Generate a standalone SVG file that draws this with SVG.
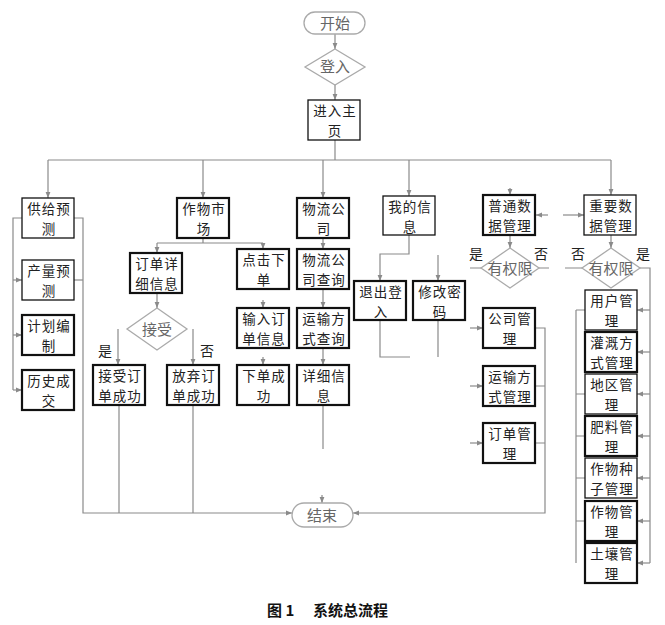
<svg xmlns="http://www.w3.org/2000/svg" width="665" height="625" viewBox="0 0 665 625">
<defs>
<marker id="a" viewBox="0 0 10 10" refX="10" refY="5" markerWidth="6" markerHeight="6" orient="auto" markerUnits="userSpaceOnUse"><path d="M0,1 L10,5 L0,9 z" fill="#8a8a8a"/></marker>
<style>
.c{fill:none;stroke:#8a8a8a;stroke-width:1.2}
.ar{marker-end:url(#a)}
.b rect{fill:#fff;stroke:#111;stroke-width:1.3}
.k rect{stroke-width:2.2}
.b text{font-family:"Noto Sans CJK SC","Noto Sans",sans-serif;font-size:13.5px;letter-spacing:1px;fill:#222;text-anchor:middle}
.lab{font-family:"Noto Sans CJK SC","Noto Sans",sans-serif;font-size:14px;fill:#222;text-anchor:middle}
.g path,.g rect{fill:#fff;stroke:#aaa;stroke-width:1.3}
.g text{font-family:"Noto Sans CJK SC","Noto Sans",sans-serif;font-size:15px;fill:#666;text-anchor:middle}
.cap{font-family:"Noto Sans CJK SC","Noto Sans",sans-serif;font-size:15px;font-weight:bold;fill:#111}
</style>
</defs>
<rect width="665" height="625" fill="#fff"/>

<g id="connectors">
<path class="c ar" d="M335,34 V49"/>
<path class="c ar" d="M335,85 V100"/>
<path class="c" d="M335,140 V160 M48,160 H611"/>
<path class="c ar" d="M48,160 V198"/>
<path class="c ar" d="M203,160 V198"/>
<path class="c ar" d="M323,160 V198"/>
<path class="c ar" d="M409,160 V196"/>
<path class="c ar" d="M611,160 V195"/>
<path class="c ar" d="M510,188 V195"/>
<path class="c" d="M22,218 H13 V390"/>
<path class="c ar" d="M13,280 H22"/>
<path class="c ar" d="M13,335 H22"/>
<path class="c ar" d="M13,390 H22"/>
<path class="c ar" d="M74,218 H83 V513 H292"/>
<path class="c" d="M74,280 H83"/>
<path class="c" d="M203,238 V243 M157,243 H263"/>
<path class="c ar" d="M157,243 V253"/>
<path class="c ar" d="M263,243 V249"/>
<path class="c ar" d="M157,293 V308"/>
<path class="c ar" d="M118,329 V365"/>
<path class="c ar" d="M193,329 V365"/>
<path class="c" d="M119,405 V513 M193,405 V513"/>
<path class="c ar" d="M263,300 V308"/>
<path class="c ar" d="M263,357 V365"/>
<path class="c ar" d="M323,238 V249"/>
<path class="c ar" d="M323,289 V308"/>
<path class="c ar" d="M323,348 V365"/>
<path class="c" d="M323,405 V449"/>
<path class="c ar" d="M322,495 V503"/>
<path class="c ar" d="M409,235 V254 H380 V281"/>
<path class="c ar" d="M438,255 V281"/>
<path class="c" d="M380,320 V357 H410 M438,320 V357"/>
<path class="c ar" d="M548,215 H536"/>
<path class="c ar" d="M563,215 H584"/>
<path class="c ar" d="M510,235 V248"/>
<path class="c" d="M470,268 H481 M539,268 H549"/>
<path class="c ar" d="M470,328 H483"/>
<path class="c ar" d="M470,386 H483"/>
<path class="c ar" d="M470,443 H483"/>
<path class="c ar" d="M535,328 H545 V513 H353"/>
<path class="c" d="M535,386 H545 M535,443 H545"/>
<path class="c ar" d="M611,235 V248"/>
<path class="c" d="M565,268 H582 M640,268 H650 V563"/>
<path class="c ar" d="M650,310 H637"/>
<path class="c ar" d="M650,352 H637"/>
<path class="c ar" d="M650,394 H637"/>
<path class="c ar" d="M650,436 H637"/>
<path class="c ar" d="M650,478 H637"/>
<path class="c ar" d="M650,521 H637"/>
<path class="c ar" d="M650,563 H637"/>
<path class="c" d="M576,310 V563 M576,310 H585 M576,394 H585 M576,436 H585 M576,478 H585 M576,521 H585"/>
</g>

<g id="start" class="g"><rect x="304" y="12" width="61" height="22" rx="11"/><text x="335" y="29">开始</text></g>
<g id="login" class="g"><path d="M335,49 L365,67 L335,85 L305,67 Z"/><text x="335" y="72">登入</text></g>
<g id="end" class="g"><rect x="292" y="503" width="61" height="24" rx="12"/><text x="322" y="521">结束</text></g>
<g id="accept" class="g"><path d="M157,308 L187,329 L157,350 L127,329 Z"/><text x="157" y="335">接受</text></g>
<g id="perm1" class="g"><path d="M510,248 L539,268 L510,288 L481,268 Z"/><text x="510" y="274">有权限</text></g>
<g id="perm2" class="g"><path d="M611,248 L640,268 L611,288 L582,268 Z"/><text x="611" y="274">有权限</text></g>

<g id="home" class="b"><rect x="308" y="100" width="52" height="40"/><text x="335" y="116">进入主</text><text x="335" y="135.7">页</text></g>
<g id="gjyc" class="b"><rect x="22" y="198" width="52" height="40"/><text x="49" y="214">供给预</text><text x="49" y="233.7">测</text></g>
<g id="clyc" class="b"><rect x="22" y="260" width="52" height="40"/><text x="49" y="276">产量预</text><text x="49" y="295.7">测</text></g>
<g id="jhbz" class="b k"><rect x="22" y="315" width="52" height="40"/><text x="49" y="331">计划编</text><text x="49" y="350.7">制</text></g>
<g id="lscj" class="b k"><rect x="22" y="370" width="52" height="40"/><text x="49" y="386">历史成</text><text x="49" y="405.7">交</text></g>
<g id="zwsc" class="b k"><rect x="177" y="198" width="52" height="40"/><text x="204" y="214">作物市</text><text x="204" y="233.7">场</text></g>
<g id="ddxx" class="b k"><rect x="130" y="253" width="52" height="40"/><text x="157" y="269">订单详</text><text x="157" y="288.7">细信息</text></g>
<g id="jsdd" class="b k"><rect x="93" y="365" width="52" height="40"/><text x="120" y="381">接受订</text><text x="120" y="400.7">单成功</text></g>
<g id="fqdd" class="b k"><rect x="167" y="365" width="52" height="40"/><text x="194" y="381">放弃订</text><text x="194" y="400.7">单成功</text></g>
<g id="djxd" class="b k"><rect x="237" y="249" width="52" height="40"/><text x="264" y="265">点击下</text><text x="264" y="284.7">单</text></g>
<g id="srdd" class="b k"><rect x="237" y="308" width="52" height="40"/><text x="264" y="324">输入订</text><text x="264" y="343.7">单信息</text></g>
<g id="xdcg" class="b k"><rect x="237" y="365" width="52" height="40"/><text x="264" y="381">下单成</text><text x="264" y="400.7">功</text></g>
<g id="wlgs" class="b k"><rect x="297" y="198" width="52" height="40"/><text x="324" y="214">物流公</text><text x="324" y="233.7">司</text></g>
<g id="wlcx" class="b k"><rect x="297" y="249" width="52" height="40"/><text x="324" y="265">物流公</text><text x="324" y="284.7">司查询</text></g>
<g id="yscx" class="b k"><rect x="297" y="308" width="52" height="40"/><text x="324" y="324">运输方</text><text x="324" y="343.7">式查询</text></g>
<g id="xxxx" class="b k"><rect x="297" y="365" width="52" height="40"/><text x="324" y="381">详细信</text><text x="324" y="400.7">息</text></g>
<g id="wdxx" class="b"><rect x="383" y="196" width="52" height="39"/><text x="410" y="212">我的信</text><text x="410" y="231.7">息</text></g>
<g id="tcdr" class="b k"><rect x="354" y="281" width="52" height="39"/><text x="381" y="297">退出登</text><text x="381" y="316.7">入</text></g>
<g id="xgmm" class="b k"><rect x="413" y="281" width="52" height="39"/><text x="440" y="297">修改密</text><text x="440" y="316.7">码</text></g>
<g id="ptsj" class="b k"><rect x="483" y="195" width="52" height="40"/><text x="510" y="211">普通数</text><text x="510" y="230.7">据管理</text></g>
<g id="zysj" class="b"><rect x="584" y="195" width="52" height="40"/><text x="611" y="211">重要数</text><text x="611" y="230.7">据管理</text></g>
<g id="gsgl" class="b k"><rect x="483" y="308" width="52" height="40"/><text x="510" y="324">公司管</text><text x="510" y="343.7">理</text></g>
<g id="ysgl" class="b k"><rect x="483" y="366" width="52" height="40"/><text x="510" y="382">运输方</text><text x="510" y="401.7">式管理</text></g>
<g id="ddgl" class="b k"><rect x="483" y="423" width="52" height="40"/><text x="510" y="439">订单管</text><text x="510" y="458.7">理</text></g>
<g id="yhgl" class="b"><rect x="585" y="290" width="52" height="40"/><text x="612" y="306">用户管</text><text x="612" y="325.7">理</text></g>
<g id="ggfs" class="b k"><rect x="585" y="332" width="52" height="40"/><text x="612" y="348">灌溉方</text><text x="612" y="367.7">式管理</text></g>
<g id="dqgl" class="b"><rect x="585" y="374" width="52" height="40"/><text x="612" y="390">地区管</text><text x="612" y="409.7">理</text></g>
<g id="flgl" class="b k"><rect x="585" y="416" width="52" height="40"/><text x="612" y="432">肥料管</text><text x="612" y="451.7">理</text></g>
<g id="zwzz" class="b"><rect x="585" y="458" width="52" height="40"/><text x="612" y="474">作物种</text><text x="612" y="493.7">子管理</text></g>
<g id="zwgl" class="b k"><rect x="585" y="501" width="52" height="40"/><text x="612" y="517">作物管</text><text x="612" y="536.7">理</text></g>
<g id="trgl" class="b k"><rect x="585" y="543" width="52" height="40"/><text x="612" y="559">土壤管</text><text x="612" y="578.7">理</text></g>

<g id="labels">
<text class="lab" x="105" y="356">是</text>
<text class="lab" x="207" y="356">否</text>
<text class="lab" x="476" y="259">是</text>
<text class="lab" x="541" y="259">否</text>
<text class="lab" x="578" y="259">否</text>
<text class="lab" x="643" y="259">是</text>
</g>
<text class="cap" x="267" y="616">图 1<tspan x="313">系统总流程</tspan></text>
</svg>
